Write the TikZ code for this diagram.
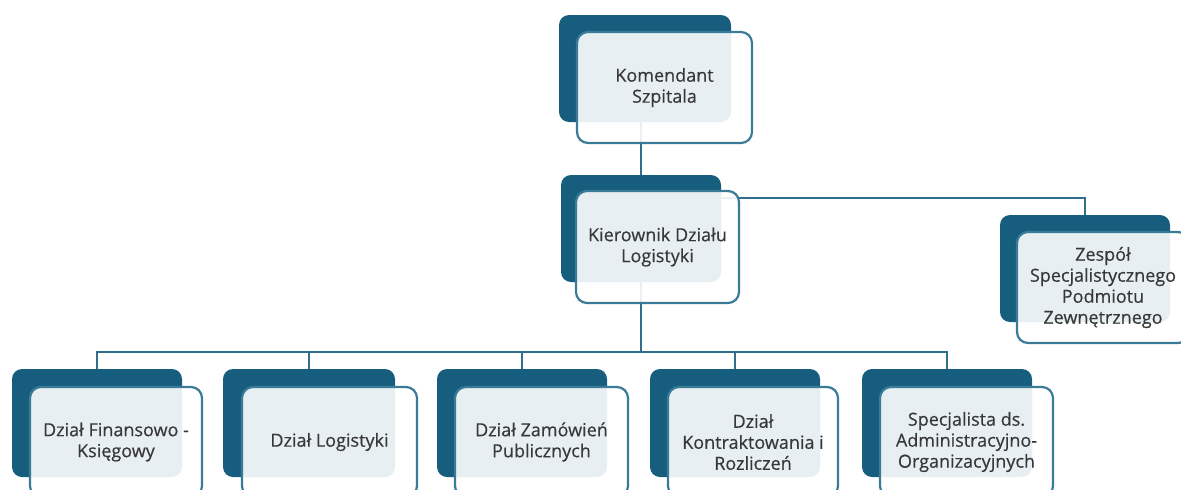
\documentclass[tikz,border=0pt]{standalone}
\usepackage{fontspec}
\setmainfont{Open Sans}[FakeBold=0.4]
\usetikzlibrary{backgrounds}
\definecolor{darkbox}{HTML}{175E7E}
\definecolor{edgeblue}{HTML}{3A7B98}
\definecolor{linkblue}{HTML}{2F6F8C}
\definecolor{txt}{HTML}{383838}
\tikzset{
  backbox/.style={rectangle, rounded corners=10pt, fill=darkbox, draw=none, inner sep=0pt, outer sep=0pt},
  frontbox/.style={rectangle, rounded corners=11pt, fill=white, fill opacity=0.9, text opacity=1,
     draw=edgeblue, line width=2.2pt, inner sep=0pt, outer sep=0pt, align=center,
     text=txt, font=\fontsize{18}{21}\selectfont},
  link/.style={draw=linkblue, line width=2.6pt}
}
\begin{document}
\begin{tikzpicture}[x=1pt,y=-1pt]
\useasboundingbox (0,0) rectangle (1181,490);
\clip (0,0) rectangle (1181,490);
% back boxes
\node[backbox, minimum width=172pt, minimum height=107pt] (kom-b) at (645,68.5) {};
\node[backbox, minimum width=160pt, minimum height=107pt] (kier-b) at (641,228.5) {};
\node[backbox, minimum width=170pt, minimum height=107pt] (zesp-b) at (1085,268.5) {};
\node[backbox, minimum width=170pt, minimum height=108pt] (d1-b) at (97,423) {};
\node[backbox, minimum width=172pt, minimum height=108pt] (d2-b) at (309,423) {};
\node[backbox, minimum width=170pt, minimum height=108pt] (d3-b) at (522,423) {};
\node[backbox, minimum width=170pt, minimum height=108pt] (d4-b) at (735,423) {};
\node[backbox, minimum width=170pt, minimum height=108pt] (d5-b) at (947,423) {};
% front boxes
\node[frontbox, minimum width=175pt, minimum height=111pt] (kom) at (664.5,87.5) {Komendant\\Szpitala};
\node[frontbox, minimum width=163pt, minimum height=112pt] (kier) at (657.5,247) {Kierownik Działu\\Logistyki};
\node[frontbox, minimum width=172pt, minimum height=111pt] (zesp) at (1103,287.5) {Zespół\\Specjalistycznego\\Podmiotu\\Zewnętrznego};
\node[frontbox, minimum width=172pt, minimum height=110pt] (d1) at (116,442) {Dział Finansowo -\\Księgowy};
\node[frontbox, minimum width=175pt, minimum height=110pt] (d2) at (329.5,442) {Dział Logistyki};
\node[frontbox, minimum width=173pt, minimum height=110pt] (d3) at (541.5,442) {Dział Zamówień\\Publicznych};
\node[frontbox, minimum width=170pt, minimum height=110pt] (d4) at (753,442) {Dział\\Kontraktowania i\\Rozliczeń};
\node[frontbox, minimum width=173pt, minimum height=110pt] (d5) at (966.5,442) {Specjalista ds.\\Administracyjno-\\Organizacyjnych};
% connectors
\begin{pgfonlayer}{background}
\coordinate (bus) at (0,352);
\draw[link] (kier-b.north |- kom-b.south) -- (kier-b.north);
\draw[link] ([yshift=-23pt]kier-b.north east) -| (zesp-b.north);
\draw[link] (kier-b.south) -- (kier-b.south |- bus);
\draw[link] (d1-b.north) -- (d1-b.north |- bus) -- (d5-b.north |- bus) -- (d5-b.north);
\draw[link] (d2-b.north) -- (d2-b.north |- bus);
\draw[link] (d3-b.north) -- (d3-b.north |- bus);
\draw[link] (d4-b.north) -- (d4-b.north |- bus);
\end{pgfonlayer}
\end{tikzpicture}
\end{document}
